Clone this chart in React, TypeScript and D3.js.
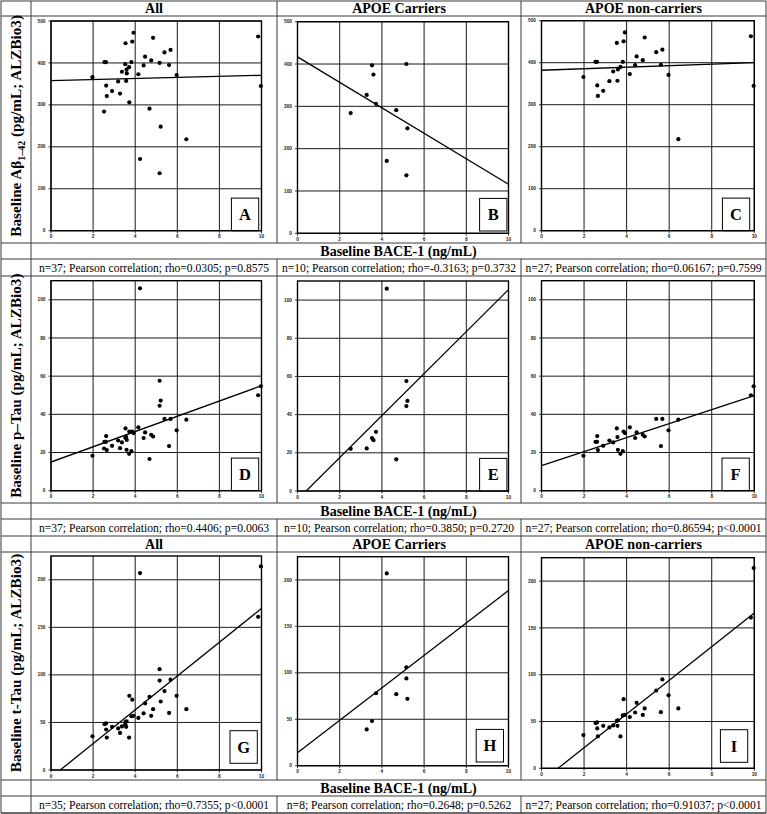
import * as d3 from "d3";

// APOE carriers: BACE-1 (ng/mL) and CSF markers (pg/mL)
const carrierBace = [2.52, 3.28, 3.53, 3.6, 3.72, 4.68, 5.16, 5.21, 4.23, 5.16];
const carrierAbeta = [284, 327, 397, 375, 306, 291, 400, 248, 171, 137];
const carrierPtau = [22.1, 22.3, 27.7, 26.6, 31.0, 16.6, 57.6, 47.2, 106, 44.5];
const carrierTtau: (number | null)[] = [null, 39, 48, null, 78, 77, 106, 72, 207, 94];

// APOE non-carriers
const nonBace = [1.97, 2.54, 2.61, 2.62, 2.65, 2.9, 3.19, 3.37, 3.54, 3.57, 3.59, 3.71, 3.82, 3.86, 3.92, 4.15, 4.4, 4.47, 4.76, 4.85, 5.39, 5.61, 5.68, 5.97, 6.43, 9.84, 9.97];
const nonAbeta = [366, 402, 402, 346, 321, 333, 356, 379, 447, 357, 384, 390, 402, 451, 472, 373, 394, 415, 406, 460, 425, 395, 431, 371, 218, 463, 345];
const nonPtau = [18.3, 25.6, 25.6, 28.6, 21.3, 23.5, 26.3, 25.3, 32.6, 28.1, 21.4, 19.3, 20.7, 31, 30.2, 33.2, 27.6, 30.5, 29.3, 28.4, 37.6, 23.4, 37.6, 31.6, 37.2, 50, 54.7];
const nonTtau: (number | null)[] = [35.5, 48.3, 49, 42.6, 34.1, 45.4, 43.7, 45.8, 50.7, 45.4, 51.2, 34.1, 56.5, 73.9, 57, 54.7, 59.6, 70, 57, 64, 83, 60, 95, 78, 64, 161, 214];

// fitted lines as drawn (intercept, slope) for All / Carriers / Non-carriers
const abetaIntercept = [358, 417, 382];
const abetaSlope = [1.25, -30.1, 1.8];
const ptauIntercept = [15, -4.5, 13.1];
const ptauSlope = [4.0, 11.0, 3.67];
const ttauIntercept = [-7.8, 14, -14];
const ttauSlope = [17.76, 17.46, 18.0];

const groupTitles = ["All", "APOE Carriers", "APOE non-carriers"];
const letters = ["A", "B", "C", "D", "E", "F", "G", "H", "I"];
const xTicks = [0, 2, 4, 6, 8, 10];
const abetaTicks = [0, 100, 200, 300, 400, 500];
const ptauTicks = [0, 20, 40, 60, 80, 100];
const ttauTicks = [0, 50, 100, 150, 200];
const yMaxes = [500, 110, 225];

const statTexts = [
  "n=37; Pearson correlation; rho=0.0305; p=0.8575",
  "n=10; Pearson correlation; rho=-0.3163; p=0.3732",
  "n=27; Pearson correlation; rho=0.06167; p=0.7599",
  "n=37; Pearson correlation; rho=0.4406; p=0.0063",
  "n=10; Pearson correlation; rho=0.3850; p=0.2720",
  "n=27; Pearson correlation; rho=0.86594; p<0.0001",
  "n=35; Pearson correlation; rho=0.7355; p<0.0001",
  "n=8; Pearson correlation; rho=0.2648; p=0.5262",
  "n=27; Pearson correlation; rho=0.91037; p<0.0001",
];
const xLabel = "Baseline BACE-1 (ng/mL)";

// layout
const W = 767;
const H = 814;
const colX = [1, 31, 277, 521, 766];
const plotX = [[51, 261.5], [297.5, 508.5], [541.5, 754.3]];
const plotY = [
  [[21, 230.7], [21.7, 233.3], [20.7, 230.7]],
  [[280.7, 490.7], [281, 491], [280.7, 490.7]],
  [[556, 770], [556.7, 765.7], [557.7, 768.3]],
];
const boxInset = [[2.8, 0], [1.6, 2.3], [4.6, 0], [2.8, 0], [1.6, 0], [5, 0], [4.2, 6.7], [5, 3.7], [6.6, 6]];
const blocks = [
  { header: [1, 16], plot: [16, 243], xlab: [243, 259], stat: [259, 276] },
  { header: null, plot: [276, 503], xlab: [503, 519], stat: [519, 536] },
  { header: [536, 552], plot: [552, 780], xlab: [780, 796], stat: [796, 813] },
];

const serif = "'Liberation Serif', 'Times New Roman', serif";
const sans = "'Liberation Sans', Arial, sans-serif";
const lineCol = "#3a3a3a";

function pairs(xs: number[], ys: (number | null)[]) {
  return xs.map((x, i) => [x, ys[i]] as [number, number | null]).filter((d) => d[1] !== null) as [number, number][];
}

function Panel({ data, box, yBox, yMax, yTicks, a, b, letter, inset, id }: any) {
  const [x0, x1] = box;
  const [y0, y1] = yBox;
  const x = d3.scaleLinear().domain([0, 10]).range([x0, x1]);
  const y = d3.scaleLinear().domain([0, yMax]).range([y1, y0]);
  const fit = d3.line<number>().x((v) => x(v)).y((v) => y(a + b * v));
  const bw = 27.3;
  const bh = 32.6;
  const bx = x1 - inset[0] - bw;
  const by = y1 - inset[1] - bh;
  return (
    <g>
      <defs>
        <clipPath id={id}>
          <rect x={x0} y={y0} width={x1 - x0} height={y1 - y0} />
        </clipPath>
      </defs>
      {xTicks.map((t) => (
        <line key={"gx" + t} x1={x(t)} x2={x(t)} y1={y0} y2={y1} stroke="#1a1a1a" strokeWidth={1} />
      ))}
      {yTicks.map((t: number) => (
        <line key={"gy" + t} x1={x0} x2={x1} y1={y(t)} y2={y(t)} stroke="#1a1a1a" strokeWidth={1} />
      ))}
      {yTicks.map((t: number) => (
        <g key={"ty" + t}>
          <line x1={x0 - 2.5} x2={x0} y1={y(t)} y2={y(t)} stroke="#000" strokeWidth={0.8} />
          <text x={x0 - 5.5} y={y(t) + 1.6} textAnchor="end" fontFamily={sans} fontSize={4.8} fontWeight="bold" fill="#222">
            {t}
          </text>
        </g>
      ))}
      {xTicks.map((t) => (
        <g key={"tx" + t}>
          <line x1={x(t)} x2={x(t)} y1={y1} y2={y1 + 2.5} stroke="#000" strokeWidth={0.8} />
          <text x={x(t)} y={y1 + 7.6} textAnchor="middle" fontFamily={sans} fontSize={4.8} fontWeight="bold" fill="#222">
            {t}
          </text>
        </g>
      ))}
      <rect x={bx} y={by} width={bw} height={bh} fill="#fff" stroke="#000" strokeWidth={1} />
      <text x={bx + bw / 2} y={by + bh / 2 + 5.6} textAnchor="middle" fontFamily={serif} fontWeight="bold" fontSize={16.5}>
        {letter}
      </text>
      <path d={fit([0, 10]) ?? ""} clipPath={`url(#${id})`} fill="none" stroke="#000" strokeWidth={1.3} />
      {data.map((d: [number, number], i: number) => (
        <circle key={i} cx={x(d[0])} cy={y(d[1])} r={2.1} fill="#000" />
      ))}
      <rect x={x0} y={y0} width={x1 - x0} height={y1 - y0} fill="none" stroke="#000" strokeWidth={1.4} />
    </g>
  );
}

export default function App() {
  const carAbeta = pairs(carrierBace, carrierAbeta);
  const nonAb = pairs(nonBace, nonAbeta);
  const carPt = pairs(carrierBace, carrierPtau);
  const nonPt = pairs(nonBace, nonPtau);
  const carTt = pairs(carrierBace, carrierTtau);
  const nonTt = pairs(nonBace, nonTtau);

  const rows = [
    { sets: [[...carAbeta, ...nonAb], carAbeta, nonAb], ticks: abetaTicks, a: abetaIntercept, b: abetaSlope },
    { sets: [[...carPt, ...nonPt], carPt, nonPt], ticks: ptauTicks, a: ptauIntercept, b: ptauSlope },
    { sets: [[...carTt, ...nonTt], carTt, nonTt], ticks: ttauTicks, a: ttauIntercept, b: ttauSlope },
  ];

  const mid = (r: number[]) => (r[0] + r[1]) / 2;

  const yLabel = (ri: number) => {
    if (ri === 0)
      return (
        <>
          Baseline Aβ
          <tspan fontSize={10} dy={3.5}>
            1–42
          </tspan>
          <tspan dy={-3.5}> (pg/mL; ALZBio3)</tspan>
        </>
      );
    if (ri === 1) return "Baseline p–Tau (pg/mL; ALZBio3)";
    return "Baseline t-Tau (pg/mL; ALZBio3)";
  };

  return (
    <svg width={W} height={H} style={{ position: "absolute", left: 0, top: 0, display: "block", background: "#fff" }}>
      <rect x={0} y={0} width={W} height={H} fill="#fff" />
      {/* table grid */}
      {blocks.map((bl, ri) => {
        const ys = [bl.header, bl.plot, bl.xlab, bl.stat].filter(Boolean) as number[][];
        return (
          <g key={"tb" + ri}>
            {ys.map((r, k) => (
              <line key={k} x1={colX[0]} x2={colX[4]} y1={r[1]} y2={r[1]} stroke={lineCol} strokeWidth={1} />
            ))}
            {[bl.header, bl.plot, bl.stat].filter(Boolean).map((r: any, k) =>
              [2, 3].map((c) => (
                <line key={k + "-" + c} x1={colX[c]} x2={colX[c]} y1={r[0]} y2={r[1]} stroke={lineCol} strokeWidth={1} />
              ))
            )}
          </g>
        );
      })}
      <line x1={colX[1]} x2={colX[1]} y1={1} y2={813} stroke={lineCol} strokeWidth={1} />
      <rect x={colX[0]} y={1} width={colX[4] - colX[0]} height={812} fill="none" stroke={lineCol} strokeWidth={1} />

      {blocks.map((bl, ri) => (
        <g key={"txt" + ri}>
          {bl.header &&
            groupTitles.map((t, c) => (
              <text key={t} x={(colX[c + 1] + colX[c + 2]) / 2} y={mid(bl.header!) + 4.8} textAnchor="middle" fontFamily={serif} fontWeight="bold" fontSize={14}>
                {t}
              </text>
            ))}
          <text x={(colX[1] + colX[4]) / 2} y={mid(bl.xlab) + 4.8} textAnchor="middle" fontFamily={serif} fontWeight="bold" fontSize={14}>
            {xLabel}
          </text>
          {[0, 1, 2].map((c) => (
            <text key={c} x={(colX[c + 1] + colX[c + 2]) / 2} y={mid(bl.stat) + 4} textAnchor="middle" fontFamily={serif} fontSize={11.6}>
              {statTexts[ri * 3 + c]}
            </text>
          ))}
          <text
            transform={`translate(16,${mid(plotY[ri][0])}) rotate(-90)`}
            x={0}
            y={5.2}
            textAnchor="middle"
            fontFamily={serif}
            fontWeight="bold"
            fontSize={15.2}
          >
            {yLabel(ri)}
          </text>
        </g>
      ))}

      {rows.map((row, ri) =>
        [0, 1, 2].map((c) => (
          <Panel
            key={ri + "-" + c}
            id={`clip-${ri}-${c}`}
            data={row.sets[c]}
            box={plotX[c]}
            yBox={plotY[ri][c]}
            yMax={yMaxes[ri]}
            yTicks={row.ticks}
            a={row.a[c]}
            b={row.b[c]}
            letter={letters[ri * 3 + c]}
            inset={boxInset[ri * 3 + c]}
          />
        ))
      )}
    </svg>
  );
}
